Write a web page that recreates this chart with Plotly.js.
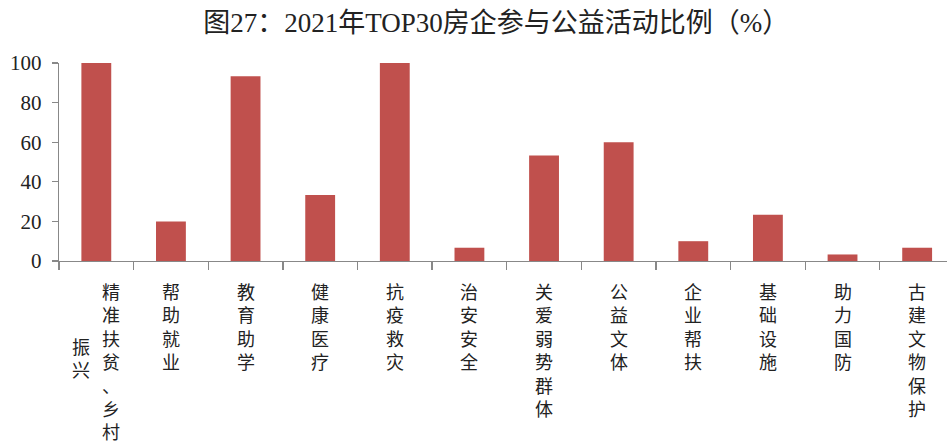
<!DOCTYPE html>
<html><head><meta charset="utf-8">
<script src="https://cdn.plot.ly/plotly-3.0.1.min.js"></script>
<style>html,body{margin:0;padding:0;background:#fff}#chart{width:947px;height:444px}</style>
</head><body><div id="chart"></div>
<script>
const categories = ["精准扶贫、乡村振兴","帮助就业","教育助学","健康医疗","抗疫救灾","治安安全","关爱弱势群体","公益文体","企业帮扶","基础设施","助力国防","古建文物保护"];
// vertical label columns (right column first)
const labelColumns = [["精准扶贫、乡村","振兴"],["帮助就业"],["教育助学"],["健康医疗"],["抗疫救灾"],["治安安全"],["关爱弱势群体"],["公益文体"],["企业帮扶"],["基础设施"],["助力国防"],["古建文物保护"]];
const values = [100, 20, 93.3, 33.3, 100, 6.7, 53.3, 60, 10, 23.3, 3.3, 6.7];
const yTicks = [0, 20, 40, 60, 80, 100];

const serif = '"Liberation Serif", "Noto Sans CJK SC", serif';
const labelFont = {family: '"Noto Sans CJK SC", sans-serif', size: 18, color: '#222'};
const topY = -0.075;          // top of label columns (paper units)
const lineH = 18 * 1.3 / 198; // one character line in paper units
const annotations = [];
labelColumns.forEach((cols, i) => {
  const first = cols[0].length;
  cols.forEach((col, j) => {
    const off = cols.length === 1 ? 0 : (j === 0 ? 0.2 : -0.2);
    const a = {
      x: i + off, xref: 'x', yref: 'paper', xanchor: 'center', showarrow: false, align: 'center',
      text: col.split('').join('<br>'), font: labelFont
    };
    if (j === 0) { a.y = topY; a.yanchor = 'top'; }
    else { a.y = topY - first * lineH / 2; a.yanchor = 'middle'; }
    annotations.push(a);
  });
});

Plotly.newPlot('chart', [{
  type: 'bar', x: categories, y: values,
  marker: {color: '#C0504D'}, hoverinfo: 'none'
}], {
  width: 947, height: 444,
  margin: {l: 59, r: 0, t: 63, b: 183},
  paper_bgcolor: '#fff', plot_bgcolor: '#fff',
  bargap: 0.6,
  title: {text: '图27：2021年TOP30房企参与公益活动比例（%）', x: 0.524, xref: 'container', xanchor: 'center', y: 0.95, yref: 'container', yanchor: 'middle',
    font: {family: serif, size: 27, color: '#222'}},
  xaxis: {type: 'category', range: [-0.5, 11.4], showticklabels: false,
    tickson: 'boundaries', ticks: 'outside', ticklen: 8, tickcolor: '#888', tickwidth: 1.3,
    showline: true, linecolor: '#888', linewidth: 1.3, showgrid: false, zeroline: false, fixedrange: true},
  yaxis: {range: [0, 100], tickvals: yTicks, ticks: 'outside', ticklen: 6, tickcolor: '#888', tickwidth: 1.3,
    showline: true, linecolor: '#888', linewidth: 1.3, showgrid: false, zeroline: false,
    ticklabelstandoff: 6,
    tickfont: {family: serif, size: 21, color: '#222'}, fixedrange: true},
  annotations: annotations,
  showlegend: false
}, {displayModeBar: false, staticPlot: true});
</script></body></html>
